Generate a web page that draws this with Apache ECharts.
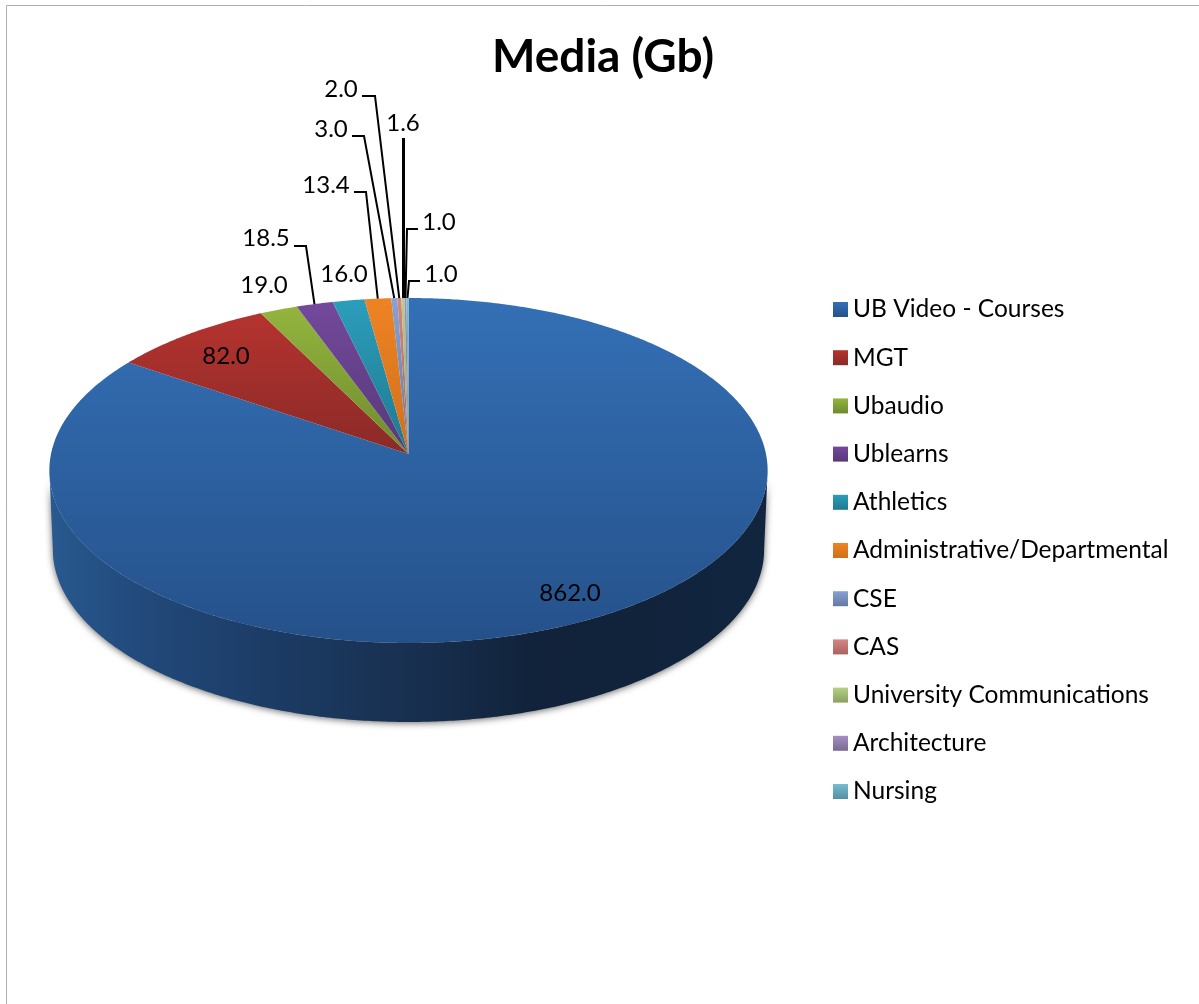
<!DOCTYPE html>
<html><head><meta charset="utf-8">
<style>html,body{margin:0;padding:0;background:#fff}#c{width:1199px;height:1004px}</style>
<script src="https://cdn.jsdelivr.net/npm/echarts@6/dist/echarts.min.js"></script>
</head><body><div id="c"></div>
<script>
const categories = ['UB Video - Courses','MGT','Ubaudio','Ublearns','Athletics','Administrative/Departmental','CSE','CAS','University Communications','Architecture','Nursing'];
const values = [862.0,82.0,19.0,18.5,16.0,13.4,3.0,2.0,1.6,1.0,1.0];
const topColors = ['#3470b6','#b5332f','#93b53e','#73499c','#2b9ebc','#ee8324','#86a3d4','#d68582','#b7d184','#a48fc2','#76bdd4'];
const lowColors = ['#25518a','#8a2a27','#6f8a2e','#573878','#20788f','#d0701c','#64799f','#a86462','#8aa060','#7a6a92','#568ea2'];
const labelBoxes = [[570,593],[226,356],[264,285],[266,238],[344,274],[326,185],[331,129],[341,89],[403,123],[439,222],[441,274]];
const leaderKnees = [null,null,null,[[294,246],[306,246]],null,[[354,192],[366,192]],[[352,136],[364,136]],[[362,96],[375,96]],[[403.5,138]],[[418,229],[407,229]],[[420,281],[409,281]]];

const FONT = 'Lato';
const total = values.reduce((a,b)=>a+b,0);
const cx = 408.5, apexY = 454, persp = -0.0957, depthB = 170.9;
function project(deg, c, y0){
  const t = deg*Math.PI/180, u = Math.sin(t), v = -Math.cos(t), d = 1+persp*v;
  return [cx + c*u/d, y0 + depthB*v/d];
}
function arc(a0,a1,c,y0){
  const n = Math.max(2,Math.ceil((a1-a0)/0.5)), pts=[];
  for(let i=0;i<=n;i++) pts.push(project(a0+(a1-a0)*i/n,c,y0));
  return pts;
}
const grad = (a,b)=>({type:'linear',x:0,y:0,x2:0,y2:1,colorStops:[{offset:0,color:a},{offset:1,color:b}]});
const wallFill = {type:'linear',global:true,x:50,y:0,x2:768,y2:0,colorStops:[
  {offset:0,color:'#28598f'},{offset:0.12,color:'#224a7c'},{offset:0.3,color:'#1c3c66'},
  {offset:0.5,color:'#183050'},{offset:0.68,color:'#11223a'},{offset:1,color:'#11253e'}]};

let cum = 0;
const series = categories.map((name,i)=>{
  const start = cum; cum += values[i];
  return {
    name, type:'custom', coordinateSystem:'none', animation:false, silent:true,
    itemStyle:{color:grad(topColors[i],lowColors[i])},
    data:[[values[i],start]],
    renderItem(params,api){
      const a0 = api.value(1)/total*360, a1 = a0 + api.value(0)/total*360, mid=(a0+a1)/2;
      const kids = [];
      const w0 = Math.max(a0,95.5), w1 = Math.min(a1,264.5);
      if(w1>w0){
        const top = arc(w0,w1,357.5,apexY), low = arc(w0,w1,354,apexY+79).reverse();
        kids.push({type:'polygon',z2:1,shape:{points:top.concat(low)},
          style:{fill:wallFill,shadowBlur:7,shadowColor:'rgba(0,0,0,0.6)',shadowOffsetY:1}});
      }
      kids.push({type:'polygon',z2:2,shape:{points:[[cx,apexY]].concat(arc(a0,a1,357.5,apexY))},
        style:{fill:grad(topColors[i],lowColors[i])}});
      if(leaderKnees[i]){
        const thick = leaderKnees[i].length===1;
        const end = project(mid,357.5,apexY);
        const pts = thick ? [leaderKnees[i][0],[leaderKnees[i][0][0],end[1]]] : leaderKnees[i].concat([end]);
        kids.push({type:'polyline',z2:3,shape:{points:pts},style:{fill:'none',stroke:'#000',lineWidth:thick?3:2}});
      }
      kids.push({type:'text',z2:4,x:labelBoxes[i][0],y:labelBoxes[i][1],
        style:{text:api.value(0).toFixed(1),fill:'#000',font:'24px '+FONT,align:'center',verticalAlign:'middle'}});
      return {type:'group',children:kids};
    }
  };
});

const chart = echarts.init(document.getElementById('c'),null,{renderer:'canvas'});
chart.setOption({
  animation:false,
  backgroundColor:'#fff',
  title:{text:'Media (Gb)',left:598,top:29,textAlign:'center',
    textStyle:{fontFamily:FONT,fontWeight:'bold',fontSize:46,color:'#000'}},
  legend:{orient:'vertical',left:833,top:297,padding:0,icon:'rect',itemWidth:15,itemHeight:15,itemGap:23.2,
    selectedMode:false,data:categories,
    textStyle:{fontFamily:FONT,fontSize:24.5,lineHeight:23,color:'#000',padding:0}},
  graphic:[
    {type:'polyline',silent:true,shape:{points:[[6.5,1004],[6.5,5.5],[1199,5.5]]},style:{fill:'none',stroke:'#aeaeae',lineWidth:1}}
  ],
  series
});
</script></body></html>
